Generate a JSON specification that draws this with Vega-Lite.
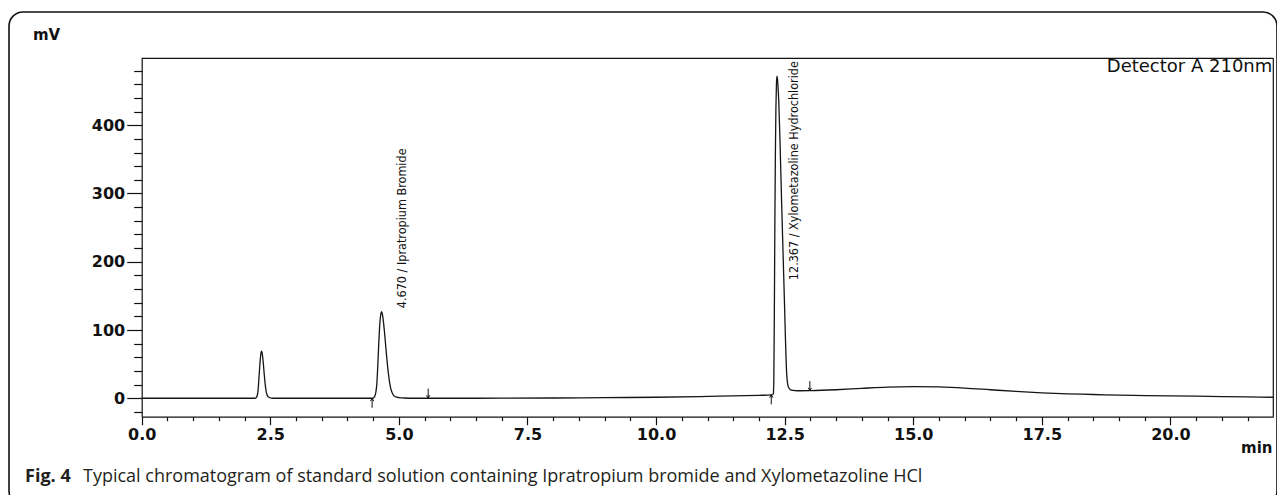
{
  "$schema": "https://vega.github.io/schema/vega-lite/v6.json",
  "width": 1268,
  "height": 493,
  "autosize": {"type": "none"},
  "padding": {"left": 9, "top": 12, "right": 0, "bottom": 0},
  "background": "white",
  "config": {
    "view": {"stroke": "#111111", "strokeWidth": 1.6, "cornerRadius": 14},
    "axis": {"grid": false, "labelOverlap": false, "labelFlush": false, "domainColor": "#111111", "tickColor": "#111111", "domainWidth": 1.2, "tickWidth": 1.2}
  },
  "resolve": {"axis": {"x": "independent", "y": "independent"}},
  "datasets": {
    "trace": [
      {"t": 0, "mV": 0}, {"t": 1, "mV": 0}, {"t": 2, "mV": 0}, {"t": 2.2, "mV": 0},
      {"t": 2.22, "mV": 0.5}, {"t": 2.24, "mV": 2.5}, {"t": 2.26, "mV": 10}, {"t": 2.28, "mV": 30},
      {"t": 2.3, "mV": 52}, {"t": 2.32, "mV": 67}, {"t": 2.33, "mV": 69}, {"t": 2.34, "mV": 67},
      {"t": 2.36, "mV": 55}, {"t": 2.38, "mV": 37}, {"t": 2.4, "mV": 21}, {"t": 2.42, "mV": 10},
      {"t": 2.44, "mV": 4.5}, {"t": 2.47, "mV": 1.5}, {"t": 2.52, "mV": 0.3}, {"t": 2.6, "mV": 0},
      {"t": 3.5, "mV": 0}, {"t": 4.48, "mV": 0}, {"t": 4.52, "mV": 1.5}, {"t": 4.55, "mV": 8},
      {"t": 4.57, "mV": 20}, {"t": 4.59, "mV": 48}, {"t": 4.61, "mV": 82}, {"t": 4.63, "mV": 110},
      {"t": 4.65, "mV": 124}, {"t": 4.665, "mV": 127}, {"t": 4.68, "mV": 123}, {"t": 4.7, "mV": 112},
      {"t": 4.72, "mV": 97}, {"t": 4.74, "mV": 80}, {"t": 4.76, "mV": 63}, {"t": 4.78, "mV": 47},
      {"t": 4.8, "mV": 34}, {"t": 4.82, "mV": 23}, {"t": 4.84, "mV": 15}, {"t": 4.87, "mV": 8},
      {"t": 4.9, "mV": 4}, {"t": 4.94, "mV": 2}, {"t": 5, "mV": 1}, {"t": 5.1, "mV": 0.4},
      {"t": 5.3, "mV": 0}, {"t": 6, "mV": 0}, {"t": 7, "mV": 0.1}, {"t": 8, "mV": 0.4},
      {"t": 9, "mV": 0.9}, {"t": 10, "mV": 1.5}, {"t": 10.85, "mV": 2.4}, {"t": 11.5, "mV": 3.5},
      {"t": 12, "mV": 4.3}, {"t": 12.26, "mV": 5}, {"t": 12.28, "mV": 6.5}, {"t": 12.29, "mV": 30},
      {"t": 12.3, "mV": 130}, {"t": 12.31, "mV": 260}, {"t": 12.32, "mV": 360}, {"t": 12.33, "mV": 425},
      {"t": 12.34, "mV": 460}, {"t": 12.35, "mV": 472}, {"t": 12.36, "mV": 468}, {"t": 12.37, "mV": 458},
      {"t": 12.385, "mV": 436}, {"t": 12.41, "mV": 375}, {"t": 12.44, "mV": 290}, {"t": 12.47, "mV": 210},
      {"t": 12.5, "mV": 130}, {"t": 12.52, "mV": 75}, {"t": 12.54, "mV": 35}, {"t": 12.56, "mV": 20},
      {"t": 12.59, "mV": 14}, {"t": 12.63, "mV": 12}, {"t": 12.7, "mV": 11.3}, {"t": 12.8, "mV": 11},
      {"t": 13, "mV": 11.2}, {"t": 13.5, "mV": 12.5}, {"t": 14, "mV": 14.5}, {"t": 14.5, "mV": 16.3},
      {"t": 15, "mV": 17}, {"t": 15.5, "mV": 16.6}, {"t": 16, "mV": 15}, {"t": 16.5, "mV": 12.5},
      {"t": 17, "mV": 10}, {"t": 17.5, "mV": 8}, {"t": 18, "mV": 6.5}, {"t": 18.5, "mV": 5.5},
      {"t": 19, "mV": 4.5}, {"t": 19.5, "mV": 4}, {"t": 20, "mV": 3.5}, {"t": 20.5, "mV": 3},
      {"t": 21, "mV": 2.5}, {"t": 21.5, "mV": 2}, {"t": 22, "mV": 1.5}
    ],
    "peaks": [
      {"t": 5.136, "mV": 132, "label": "4.670 / Ipratropium Bromide"},
      {"t": 12.754, "mV": 173, "label": "12.367 / Xylometazoline Hydrochloride"}
    ],
    "upArrows": [{"t": 4.48, "mV": 0}, {"t": 12.24, "mV": 5}],
    "downArrows": [{"t": 5.57, "mV": 0.3}, {"t": 12.99, "mV": 11.2}]
  },
  "layer": [
    {
      "data": {"name": "trace"},
      "mark": {"type": "line", "color": "#151515", "strokeWidth": 1.3, "interpolate": "monotone"},
      "encoding": {
        "x": {
          "field": "t", "type": "quantitative",
          "scale": {"domain": [0, 22], "range": [132.7, 1264.3], "nice": false, "zero": false},
          "axis": {
            "orient": "bottom", "offset": -88.3,
            "values": [0, 2.5, 5, 7.5, 10, 12.5, 15, 17.5, 20],
            "format": ".1f", "tickSize": 8,
            "labelOverlap": false, "labelFlush": false,
            "labelFont": "DejaVu Sans", "labelFontWeight": "bold", "labelFontSize": 16,
            "labelColor": "#111111", "labelPadding": 2,
            "title": "min", "titleX": 1263, "titleY": 31, "titleAlign": "right", "titleBaseline": "middle",
            "titleFont": "DejaVu Sans", "titleFontWeight": "bold", "titleFontSize": 15, "titleColor": "#111111"
          }
        },
        "y": {
          "field": "mV", "type": "quantitative",
          "scale": {"domain": [-27, 498], "range": [404.7, 46.3], "nice": false, "zero": false},
          "axis": {
            "orient": "left", "offset": -132.7,
            "values": [0, 100, 200, 300, 400],
            "format": "d", "tickSize": 15,
            "labelOverlap": false, "labelFlush": false,
            "labelFont": "DejaVu Sans", "labelFontWeight": "bold", "labelFontSize": 16,
            "labelColor": "#111111", "labelPadding": 2,
            "title": "mV", "titleAngle": 0, "titleX": -95.7, "titleY": 22, "titleAlign": "center", "titleBaseline": "middle",
            "titleFont": "DejaVu Sans", "titleFontWeight": "bold", "titleFontSize": 15, "titleColor": "#111111"
          }
        }
      }
    },
    {
      "data": {"name": "upArrows"},
      "mark": {"type": "point", "shape": "M0,0L0,2M-0.35,0.6L0,0L0.35,0.6", "size": 90, "filled": false, "stroke": "#111111", "strokeWidth": 1, "opacity": 1},
      "encoding": {
        "x": {
          "field": "t", "type": "quantitative",
          "axis": {
            "orient": "bottom", "offset": -88.3,
            "values": [0.5,1,1.5,2,3,3.5,4,4.5,5.5,6,6.5,7,8,8.5,9,9.5,10.5,11,11.5,12,13,13.5,14,14.5,15.5,16,16.5,17,18,18.5,19,19.5,20.5,21,21.5],
            "tickSize": 4, "labels": false, "domain": false, "title": null
          }
        },
        "y": {
          "field": "mV", "type": "quantitative",
          "axis": {
            "orient": "left", "offset": -132.7,
            "values": [-20,20,40,60,80,120,140,160,180,220,240,260,280,320,340,360,380,420,440,460,480],
            "tickSize": 8, "labels": false, "domain": false, "title": null
          }
        }
      }
    },
    {
      "data": {"name": "downArrows"},
      "mark": {"type": "point", "shape": "M0,0L0,-2M-0.35,-0.6L0,0L0.35,-0.6", "size": 90, "filled": false, "stroke": "#111111", "strokeWidth": 1, "opacity": 1},
      "encoding": {
        "x": {"field": "t", "type": "quantitative", "axis": null},
        "y": {"field": "mV", "type": "quantitative", "axis": null}
      }
    },
    {
      "data": {"values": [{}]},
      "mark": {"type": "rule", "color": "#111111", "strokeWidth": 1.2},
      "encoding": {"x": {"datum": 0, "axis": null}, "x2": {"datum": 22}, "y": {"datum": 498, "axis": null}}
    },
    {
      "data": {"values": [{}]},
      "mark": {"type": "rule", "color": "#111111", "strokeWidth": 1.2},
      "encoding": {"x": {"datum": 22, "axis": null}, "y": {"datum": -27, "axis": null}, "y2": {"datum": 498}}
    },
    {
      "data": {"name": "peaks"},
      "mark": {"type": "text", "angle": 270, "align": "left", "baseline": "alphabetic", "font": "DejaVu Sans Condensed, Liberation Sans", "fontSize": 12.5, "color": "#111111"},
      "encoding": {
        "x": {"field": "t", "type": "quantitative", "axis": null},
        "y": {"field": "mV", "type": "quantitative", "axis": null},
        "text": {"field": "label"}
      }
    },
    {
      "data": {"values": [{}]},
      "mark": {"type": "text", "text": "Detector A 210nm", "align": "right", "baseline": "top", "font": "DejaVu Sans", "fontSize": 18, "color": "#111111", "dx": -1, "dy": 0},
      "encoding": {"x": {"datum": 22, "axis": null}, "y": {"datum": 498, "axis": null}}
    },
    {
      "data": {"values": [{}]},
      "mark": {"type": "text", "text": "Fig. 4", "align": "left", "baseline": "middle", "font": "Open Sans", "fontWeight": "bold", "fontSize": 18, "color": "#231f20"},
      "encoding": {"x": {"datum": -2.268, "axis": null}, "y": {"datum": -116, "axis": null}}
    },
    {
      "data": {"values": [{}]},
      "mark": {"type": "text", "text": "Typical chromatogram of standard solution containing Ipratropium bromide and Xylometazoline HCl", "align": "left", "baseline": "middle", "font": "Open Sans", "fontSize": 18, "color": "#231f20"},
      "encoding": {"x": {"datum": -1.141, "axis": null}, "y": {"datum": -116, "axis": null}}
    }
  ]
}
